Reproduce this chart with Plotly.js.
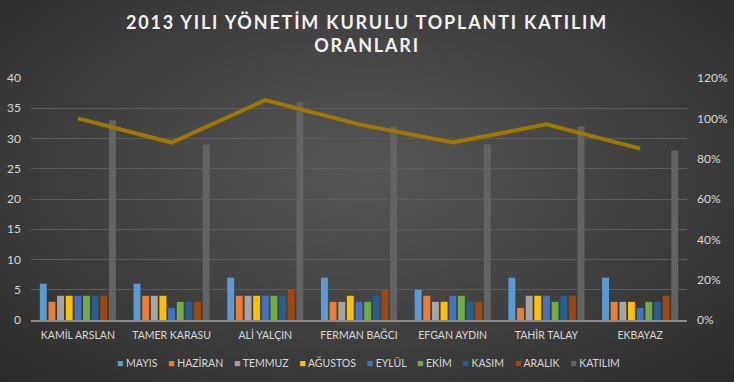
<!DOCTYPE html>
<html>
<head>
<meta charset="utf-8">
<script src="https://cdn.plot.ly/plotly-3.0.1.min.js"></script>
<style>
html,body{margin:0;padding:0;}
body{width:734px;height:382px;overflow:hidden;
background:radial-gradient(ellipse at 50% 45%, #565656 0%, #464646 40%, #2b2b2b 100%);}
#chart{width:734px;height:382px;}
.gtitle{letter-spacing:1.8px;}
</style>
</head>
<body>
<div id="chart"></div>
<script>
const categories = ["KAMİL ARSLAN","TAMER KARASU","ALİ YALÇIN","FERMAN BAĞCI","EFGAN AYDIN","TAHİR TALAY","EKBAYAZ"];
const seriesNames = ["MAYIS","HAZİRAN","TEMMUZ","AĞUSTOS","EYLÜL","EKİM","KASIM","ARALIK","KATILIM"];
const mayis   = [6,6,7,7,5,7,7];
const haziran = [3,4,4,3,4,2,3];
const temmuz  = [4,4,4,3,3,4,3];
const agustos = [4,4,4,4,3,4,3];
const eylul   = [4,2,4,3,4,4,2];
const ekim    = [4,3,4,3,4,3,3];
const kasim   = [4,3,4,4,3,4,3];
const aralik  = [4,3,5,5,3,4,4];
const katilim = [33,29,36,32,29,32,28];
const oran    = [1.00,0.88,1.09,0.97,0.88,0.97,0.85];
const colors = ["#5B9BD5","#ED7D31","#A5A5A5","#FFC000","#4472C4","#70AD47","#255E91","#9E480E","#636363"];
const seriesValues = [mayis,haziran,temmuz,agustos,eylul,ekim,kasim,aralik,katilim];

const textColor = "#d9d9d9";
const font = "Lato, 'Open Sans', sans-serif";

const traces = seriesValues.map((vals,i)=>({
  type:"bar", name:seriesNames[i], x:categories, y:vals,
  marker:{color:colors[i]}, xaxis:"x", yaxis:"y"
}));
traces.push({
  type:"scatter", mode:"lines", name:"ORAN", x:categories, y:oran,
  xaxis:"x", yaxis:"y2", showlegend:false,
  line:{color:"#9E7800", width:4}
});

const NB = "\u00a0";
const legendText = seriesNames.map((n,i)=>
  `<span style="color:${colors[i]}">■</span>${NB}${n}`).join(NB+NB+NB+NB);

const layout = {
  width:734, height:382,
  paper_bgcolor:"rgba(0,0,0,0)", plot_bgcolor:"rgba(0,0,0,0)",
  margin:{l:31, r:47, t:78, b:62},
  font:{family:font, color:textColor, size:12},
  title:{text:"2013 YILI YÖNETİM KURULU TOPLANTI KATILIM<br>ORANLARI",
    font:{family:font, size:18, color:"#f2f2f2", weight:"bold"},
    x:0.5, xanchor:"center", y:0.924, yanchor:"top"},
  barmode:"group", bargap:0.17, bargroupgap:0.2,
  xaxis:{type:"category", showgrid:false, showline:true, linecolor:"#8a8a8a", linewidth:1.5,
    tickfont:{size:10.5, color:textColor}, ticks:"", ticklabelstandoff:5},
  yaxis:{range:[0,40], dtick:5, showgrid:true, gridcolor:"#5c5c5c", gridwidth:1,
    zeroline:false, showline:false, ticks:"", ticklabelstandoff:9,
    tickfont:{size:12, color:textColor}},
  yaxis2:{overlaying:"y", side:"right", range:[0,1.2], dtick:0.2, tickformat:".0%",
    showgrid:false, zeroline:false, showline:false, ticks:"", ticklabelstandoff:9,
    tickfont:{size:12, color:textColor}},
  showlegend:false,
  annotations:[{xref:"paper", yref:"paper", x:0.514, y:-0.174, xanchor:"center", yanchor:"middle",
    showarrow:false, text:legendText, font:{size:10.5, color:textColor, family:font}}]
};
Plotly.newPlot("chart", traces, layout, {displayModeBar:false, staticPlot:true});
</script>
</body>
</html>
